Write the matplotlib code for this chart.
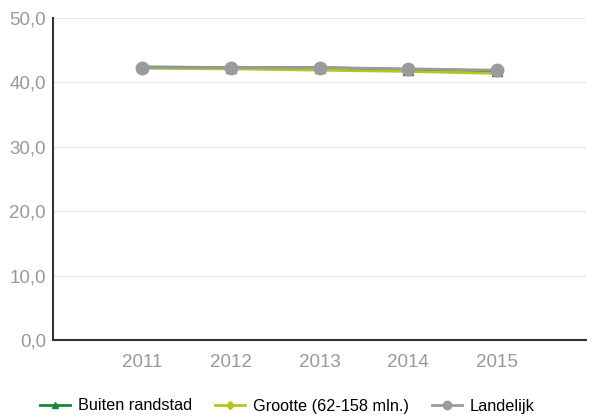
import matplotlib
matplotlib.use("Agg")
import matplotlib.pyplot as plt

years = ["2011", "2012", "2013", "2014", "2015"]
buiten_randstad = [42.4, 42.3, 42.3, 42.0, 41.8]
grootte = [42.2, 42.1, 41.9, 41.7, 41.4]
landelijk = [42.3, 42.3, 42.3, 42.1, 41.9]
y_ticks = [0, 10, 20, 30, 40, 50]
y_tick_labels = ["0,0", "10,0", "20,0", "30,0", "40,0", "50,0"]

plt.rcParams["font.family"] = ["Liberation Sans", "DejaVu Sans"]

fig = plt.figure(figsize=(5.93, 4.18), dpi=100)
ax = fig.add_axes([53 / 593, 78 / 418, 533 / 593, 322 / 418])

x = list(range(1, len(years) + 1))
ax.plot(x, buiten_randstad, color="#17873a", lw=2, marker="^", ms=7,
        label="Buiten randstad", zorder=3)
ax.plot(x, grootte, color="#b8c41c", lw=2, marker="D", ms=3.5,
        label="Grootte (62-158 mln.)", zorder=3)
ax.plot(x, landelijk, color="#9b9b9b", lw=2, marker="o", ms=9,
        label="Landelijk", zorder=4)

ax.set_xlim(0, len(years) + 1)
ax.set_ylim(0, 50)
ax.set_xticks(x)
ax.set_xticklabels(years)
ax.set_yticks(y_ticks)
ax.set_yticklabels(y_tick_labels)
ax.tick_params(length=0, labelsize=13.5, colors="#999999", pad=5)
ax.tick_params(axis="x", pad=10)

ax.grid(axis="y", color="#e6e6e6", lw=1)
ax.set_axisbelow(True)
for s in ["top", "right"]:
    ax.spines[s].set_visible(False)
for s in ["left", "bottom"]:
    ax.spines[s].set_color("#333333")
    ax.spines[s].set_linewidth(1.5)

handles, labels = ax.get_legend_handles_labels()
leg = fig.legend(handles, labels, loc="center left",
                 bbox_to_anchor=(40 / 593, 12 / 418), ncol=3,
                 frameon=False, fontsize=11.7, handlelength=1.85,
                 columnspacing=1.4, handletextpad=0.5,
                 borderpad=0, borderaxespad=0)
for h, ms in zip(leg.legend_handles, [5, 4, 6]):
    h.set_markersize(ms)

fig.savefig("out.png", dpi=100)
